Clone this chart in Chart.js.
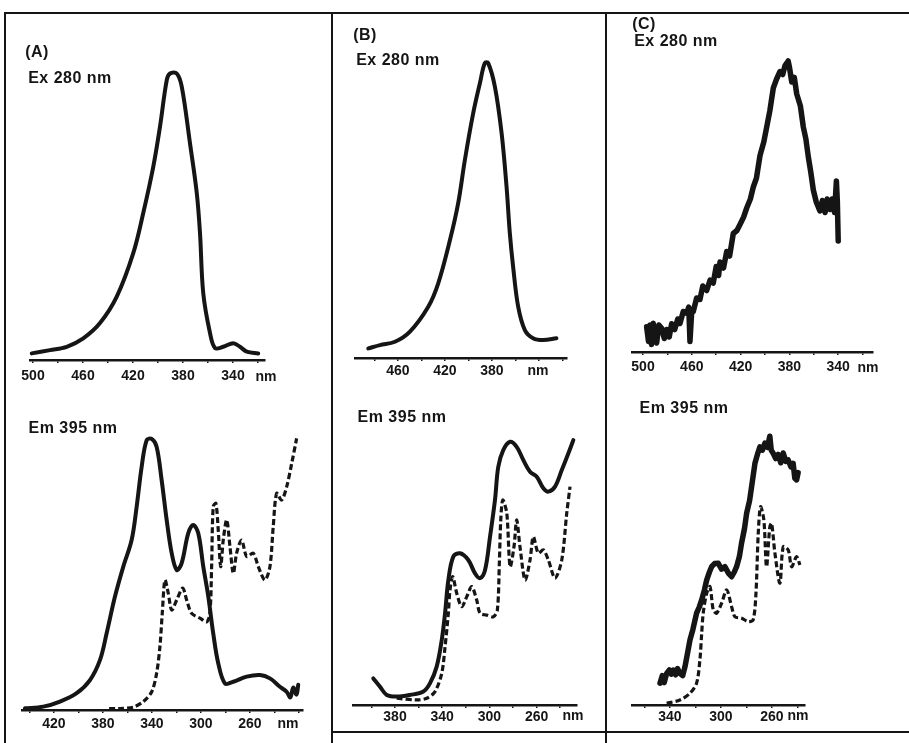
<!DOCTYPE html>
<html>
<head>
<meta charset="utf-8">
<script src="https://cdn.jsdelivr.net/npm/chart.js@4.4.1/dist/chart.umd.min.js"></script>
<style>
  body { margin: 0; background: #fff; width: 909px; height: 743px; position: relative; overflow: hidden; }
  .rule { position: absolute; background: #151515; }
  .lbl { position: absolute; transform: translate(-50%, -50%); font-family: 'Liberation Sans', Arial, sans-serif; font-weight: bold; font-size: 16px; letter-spacing: 0.5px; color: #151515; white-space: nowrap; }
  .unit { position: absolute; transform: translate(-50%, -50%); font-family: 'Liberation Sans', Arial, sans-serif; font-weight: bold; font-size: 14px; color: #151515; }
  canvas { position: absolute; }
</style>
</head>
<body>

<script>
// ---- data (wavelength in nm, relative intensity 0-100) ----

// (A) Ex 280 nm
const exA_nm  = [501, 486.4, 473, 459.8, 446.4, 433, 419.8, 411.8, 403.8, 398.4, 393, 390.4, 385, 381, 374.4, 369, 366.4, 363.8, 358.4, 354.4, 347.8, 339.8, 334.4, 329, 319.8];
const exA_int = [2.2, 3.3, 4.4, 7.2, 12.3, 21.1, 35.6, 49, 64.4, 77.8, 93.3, 95.5, 95.5, 91.1, 72.2, 55.7, 42.3, 22.3, 9, 4, 4.4, 5.6, 4.4, 2.8, 2.2];

// (B) Ex 280 nm
const exB_nm  = [485.3, 475.3, 462.6, 449.8, 434.2, 425.7, 415.7, 408.7, 403, 395.9, 390.2, 386, 383.1, 377.4, 371.7, 367.5, 364.7, 361.9, 357.6, 351.9, 344.9, 336.3, 325];
const exB_int = [3.2, 4.3, 5.4, 8.8, 17.1, 24.9, 39.3, 51.6, 66, 81.6, 91.6, 98.3, 98.3, 90.4, 74.9, 57.1, 41.6, 30.4, 17.1, 9.3, 6.6, 6, 6.6];

// (C) Ex 280 nm (noisy trace)
const exC_nm  = [497, 495.5, 494.3, 493, 491.6, 490, 488.8, 487, 484.7, 482.5, 480.6, 478.5, 476.5, 474, 471.5, 469.7, 467, 464.2, 462.5, 461.5, 460, 458.8, 456, 453.3, 451, 447.8, 445, 442.4, 440, 438, 436.9, 434, 431.4, 429, 426, 423, 420.5, 417.5, 415, 412, 409.6, 407, 404.1, 401, 398.6, 396, 393.2, 390.5, 387.7, 385.5, 383.6, 381, 380, 378.1, 376, 374, 371, 368.6, 366.5, 364.5, 362.5, 360.4, 358, 355, 353, 350.8, 349, 346.7, 345, 343, 341.5, 340.7, 340];
const exC_int = [8.4, 3.5, 9, 2.5, 9.6, 4, 3, 9, 7.9, 4.5, 7.5, 5, 9.4, 7.5, 11, 9.5, 13.5, 12.9, 15, 3.5, 14, 13.5, 18, 17.5, 22, 20.5, 24, 23, 28.5, 25.5, 30, 28, 33.5, 32, 39.5, 40.5, 42.5, 45, 48, 51, 55, 58, 65.5, 70, 75, 80.5, 88, 91, 93.5, 92.5, 95.5, 97, 95, 90, 91.5, 86, 82, 75, 71, 65, 60, 54, 50, 47, 50.5, 46.5, 51, 47.5, 51, 46.5, 57, 50, 37];

// (A) Em 395 nm: solid and dashed traces
const emA_nm   = [443.7, 428.7, 415.1, 401.5, 390.6, 382.4, 377, 370.2, 363.4, 356.6, 352.5, 348.4, 344.3, 340.2, 336.2, 332.1, 328, 323.9, 319.8, 315.8, 310.4, 306.3, 302.2, 298.1, 294, 290, 285.9, 280.4, 273.6, 262.7, 251.8, 243.7, 235.5, 230, 227, 224.7, 222, 220.6];
const emA_int  = [0.6, 1.2, 3, 6, 10.7, 17.9, 27.4, 40.5, 51.2, 60.7, 72.6, 86.9, 96.4, 96.8, 94, 82.1, 67.9, 56, 50, 52.4, 63.1, 66.1, 63.1, 51.2, 40.5, 27.4, 16.7, 9.5, 10.1, 11.9, 12.5, 11.3, 8.3, 6.5, 4.5, 8, 5.5, 9];
const emA2_nm  = [375, 366.1, 355.3, 347.1, 340.2, 336.2, 333.5, 331.6, 329.4, 326.7, 323.9, 319.8, 314.9, 311.7, 307.6, 300.8, 295.3, 292.7, 291.3, 290, 287.8, 285.9, 283.9, 281.8, 279, 276.3, 273.6, 270.9, 266.8, 262.7, 257.3, 253.2, 247.8, 243.7, 241, 238.2, 234.1, 230, 225.9, 221.9];
const emA2_int = [0.5, 0.5, 1, 3, 6.5, 13.1, 22.6, 34.5, 46.4, 41.7, 35.7, 39.3, 43.5, 39.3, 34.5, 32.8, 31.5, 34.5, 51.2, 72.6, 73.8, 64.3, 51.2, 60.7, 67.9, 58.3, 48.8, 56, 60.7, 54.8, 56, 51.2, 46.4, 51.2, 65.5, 77.4, 75, 79.8, 88.1, 97];

// (B) Em 395 nm
const emB_nm   = [398.4, 392.7, 387, 378.6, 367.3, 356, 350.3, 344.7, 340.4, 337.6, 334.8, 330.6, 324.9, 317.9, 312.2, 308, 303.7, 299.5, 295.3, 292.5, 288.2, 282.5, 276.9, 271.3, 265.6, 259.9, 254.3, 250.1, 244.4, 238.7, 233.1, 228.9];
const emB_int  = [9.5, 6.5, 3.6, 3, 3.6, 4.8, 7.8, 13.7, 23.2, 32.8, 44.6, 53, 54.2, 51.8, 47, 45.3, 48.2, 60.1, 73.2, 85.1, 91.1, 94, 92.2, 87.5, 83.3, 81.5, 77.4, 76.2, 78, 83.9, 89.9, 94.6];
const emB2_nm  = [378.6, 361.6, 353.1, 346.1, 340.4, 337.6, 334.8, 333.4, 331.1, 327.7, 323.5, 319.2, 315, 310.8, 308, 302.3, 296.7, 293.3, 291.6, 290.4, 288.7, 285.3, 282.5, 279.2, 276.9, 274.1, 269.8, 265.6, 262.8, 258.6, 254.3, 250.1, 244.4, 238.7, 234.5, 231.7];
const emB2_int = [2.4, 1.8, 2.4, 4.8, 11.3, 20.8, 32.8, 41.1, 45.8, 39.9, 35.1, 38.7, 42.3, 37.5, 32.8, 32.1, 31.5, 33.9, 50.6, 66.1, 73.2, 68.5, 49.4, 56.5, 66.1, 56.5, 44.6, 51.8, 60.1, 54.2, 55.4, 51.8, 45.3, 51.8, 68.5, 78];

// (C) Em 395 nm
const emC_nm   = [347.8, 346, 344.5, 342.6, 340.5, 339, 337.4, 335.5, 334, 332.2, 330, 328.2, 326, 324.3, 322, 319.1, 317, 315.1, 313, 311.2, 309, 307.3, 305, 302.1, 299.5, 296.9, 294, 291.6, 289.5, 287.7, 285.5, 283.8, 281.5, 279.8, 277.5, 275.9, 273.3, 271, 269.4, 267.5, 265.5, 263.5, 261.6, 260.5, 259, 257, 255.1, 253, 251.1, 249, 247.2, 245, 243.3, 242, 240.6, 239.4];
const emC_int  = [7.8, 10.5, 8, 11.3, 12.5, 11, 12.5, 10.8, 13, 11.3, 10.5, 13.7, 19, 23.2, 27, 32.8, 35, 37.5, 41, 44.6, 47.5, 49.4, 50.5, 50.6, 48.5, 49.4, 47, 45.8, 47.5, 49.4, 53, 57.8, 63, 68.5, 73, 78, 86.3, 90, 92.2, 91, 93.5, 92, 96, 91, 89.9, 88, 89.5, 86.5, 90, 87, 87.5, 85, 86.3, 81, 80.4, 83];
const emC2_nm  = [342.6, 332.2, 324.3, 319.1, 316.5, 315.1, 313.9, 311.2, 308.6, 306, 303.4, 299.5, 295.5, 291.6, 289, 283.8, 278.6, 274.7, 272.5, 270.7, 268.9, 266.3, 264.2, 261.6, 260.2, 257.6, 253.7, 251.1, 247.2, 244.5, 240.6, 238];
const emC2_int = [0.6, 1.8, 4.2, 7.8, 16.1, 25.6, 32.8, 39.9, 42.3, 33.9, 32.8, 36.3, 41.1, 35.1, 31.5, 31, 29.8, 30.4, 39.9, 61.3, 70.8, 66.1, 49.4, 63.7, 64.9, 54.2, 43.5, 56.5, 55.4, 49.4, 53, 50];

// labelled ticks on each wavelength axis (ticks every 20 nm)
const ticksExA = [500, 460, 420, 380, 340];
const ticksExB = [460, 420, 380];
const ticksExC = [500, 460, 420, 380, 340];
const ticksEmA = [420, 380, 340, 300, 260];
const ticksEmB = [380, 340, 300, 260];
const ticksEmC = [340, 300, 260];

// ---- layout ----
const INK = '#151515';
const PAD = 20;      // room around the plot area inside each canvas
const XH = 30;       // fixed height of the x-axis band

function rule(x, y, w, h) {
  const d = document.createElement('div');
  d.className = 'rule';
  Object.assign(d.style, { left: x + 'px', top: y + 'px', width: w + 'px', height: h + 'px' });
  document.body.appendChild(d);
}

function text(cls, str, cx, cy) {
  const d = document.createElement('div');
  d.className = cls;
  d.textContent = str;
  d.style.left = cx + 'px';
  d.style.top = cy + 'px';
  document.body.appendChild(d);
}

function points(xs, ys) {
  return xs.map((x, i) => ({ x: x, y: ys[i] }));
}

function solid(xs, ys, width, tension) {
  return {
    data: points(xs, ys), borderColor: INK, borderWidth: width,
    tension: tension, borderCapStyle: 'round', borderJoinStyle: 'round', clip: false
  };
}

function dashed(xs, ys) {
  return {
    data: points(xs, ys), borderColor: INK, borderWidth: 3.2,
    borderDash: [6, 3], tension: 0.3, clip: false
  };
}

// left/right: pixel ends of the axis line, axisY: its pixel row, top: pixel row of intensity 100
function panel(p) {
  const c = document.createElement('canvas');
  const w = (p.right - p.left) + 2 * PAD;
  const h = (p.axisY - p.top) + PAD + XH;
  c.width = w;
  c.height = h;
  c.style.left = (p.left - PAD) + 'px';
  c.style.top = (p.top - PAD) + 'px';
  document.body.appendChild(c);

  new Chart(c, {
    type: 'line',
    data: { datasets: p.datasets },
    options: {
      responsive: false,
      animation: false,
      events: [],
      layout: { padding: { left: PAD, right: PAD, top: PAD, bottom: 0 } },
      plugins: { legend: { display: false }, tooltip: { enabled: false } },
      elements: { point: { radius: 0 } },
      scales: {
        x: {
          type: 'linear', reverse: true, min: p.min, max: p.max,
          afterFit: s => { s.height = XH; },
          border: { color: INK, width: 2.5 },
          grid: { drawOnChartArea: false, drawTicks: true, tickLength: 3, color: INK, lineWidth: 1.5 },
          ticks: {
            stepSize: 20, includeBounds: false, autoSkip: false, maxRotation: 0,
            padding: p.pad, color: INK,
            font: { family: "'Liberation Sans', Arial, sans-serif", size: 14, weight: 'bold' },
            callback: v => p.labels.includes(Math.round(v)) ? String(Math.round(v)) : ''
          }
        },
        y: { display: false, min: 0, max: 100 }
      }
    }
  });
}

// frame
rule(5, 12, 904, 2);
rule(4, 12, 2, 731);
rule(331, 12, 2, 731);
rule(605, 12, 2, 731);
rule(331, 731, 578, 2);

// top row: excitation at 280 nm
panel({ left: 30, right: 265, axisY: 360, top: 60, min: 314.4, max: 502.4, pad: 5, labels: ticksExA,
        datasets: [solid(exA_nm, exA_int, 4, 0.35)] });
panel({ left: 355, right: 567, axisY: 358, top: 58, min: 316, max: 496.6, pad: 2, labels: ticksExB,
        datasets: [solid(exB_nm, exB_int, 4, 0.35)] });
panel({ left: 632, right: 873, axisY: 352, top: 52, min: 311.5, max: 509, pad: 4, labels: ticksExC,
        datasets: [solid(exC_nm, exC_int, 5.5, 0)] });

// bottom row: emission at 395 nm
panel({ left: 22, right: 303, axisY: 710, top: 430, min: 216.7, max: 446.1, pad: 3, labels: ticksEmA,
        datasets: [solid(emA_nm, emA_int, 4, 0.35), dashed(emA2_nm, emA2_int)] });
panel({ left: 353, right: 577, axisY: 705, top: 425, min: 225.8, max: 415.6, pad: 1, labels: ticksEmB,
        datasets: [solid(emB_nm, emB_int, 4, 0.35), dashed(emB2_nm, emB2_int)] });
panel({ left: 632, right: 805, axisY: 705, top: 425, min: 234, max: 369.8, pad: 1, labels: ticksEmC,
        datasets: [solid(emC_nm, emC_int, 5.5, 0), dashed(emC2_nm, emC2_int)] });

// panel captions
text('lbl', '(A)', 37, 52);
text('lbl', 'Ex 280 nm', 70, 78);
text('lbl', '(B)', 365, 35);
text('lbl', 'Ex 280 nm', 398, 60);
text('lbl', '(C)', 644, 24);
text('lbl', 'Ex 280 nm', 676, 41);
text('lbl', 'Em 395 nm', 73, 428);
text('lbl', 'Em 395 nm', 402, 417);
text('lbl', 'Em 395 nm', 684, 408);

// axis unit after the last tick label
text('unit', 'nm', 266, 376);
text('unit', 'nm', 538, 370);
text('unit', 'nm', 868, 367);
text('unit', 'nm', 288, 723);
text('unit', 'nm', 573, 715);
text('unit', 'nm', 798, 715);
</script>
</body>
</html>
